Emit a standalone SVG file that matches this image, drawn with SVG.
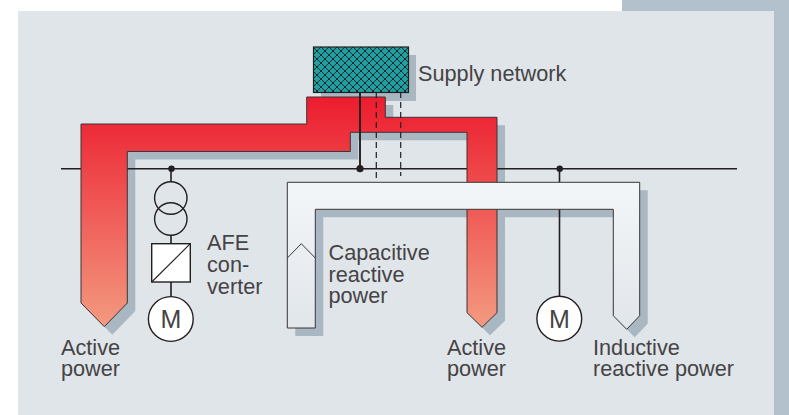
<svg xmlns="http://www.w3.org/2000/svg" width="789" height="415" viewBox="0 0 789 415">
<style>
.line{fill:none;stroke:#231f20;stroke-width:1.6}
.dash{fill:none;stroke:#231f20;stroke-width:1.2;stroke-dasharray:6 4}
.shadow{fill:#a8b7c1}
.outline{stroke:#3a3536;stroke-width:1}
.sym{fill:#fff;stroke:#231f20;stroke-width:1.4}
.dot{fill:#231f20}
text{font-family:"Liberation Sans",Arial,sans-serif;font-size:21.700px;fill:#454345}
</style>
<defs>
<linearGradient id="red" gradientUnits="userSpaceOnUse" x1="0" y1="97" x2="0" y2="327"><stop offset="0" stop-color="#ec1c2e"/><stop offset="1" stop-color="#f39a80"/></linearGradient>
<linearGradient id="white" gradientUnits="userSpaceOnUse" x1="0" y1="182" x2="0" y2="330"><stop offset="0" stop-color="#f3f6f9"/><stop offset="1" stop-color="#e1e6ea"/></linearGradient>
<pattern id="hatch" patternUnits="userSpaceOnUse" x="313" y="47" width="8" height="8">
<rect width="8" height="8" fill="#20a0a2"/>
<path d="M0 0L8 8M8 0L0 8" stroke="#1f2a2c" stroke-width="1"/>
</pattern>
<path id="redShape" d="M81 124H306.700V97H385.300V117.300H497V312.700L482 327.300L467 312.700V132.300H350.300V151.500H127.300V303L104.300 326.700L81 303Z"/>
</defs>
<g id="background">
<rect x="622" y="0" width="167" height="415" fill="#b2c1cb"/>
<rect x="18" y="11" width="756" height="404" fill="#e0e5e9"/>
</g>
<g id="shadows">
<rect class="shadow" x="321" y="55" width="95" height="46"/>
<use href="#redShape" class="shadow" x="8" y="8"/>
<path class="shadow" d="M295.300 190.300H647.700V323.700L634.700 337.300L621.300 323.700V217.300H323.300V336H295.300Z"/>
</g>
<g id="connectors">
<path class="line" d="M61 168.700H737"/>
<path class="line" d="M171 169V182M171 235V244M171 282V297"/>
<path class="line" d="M559.500 169V182.300M559.500 209V297"/>
</g>
<g id="active-power-flow">
<use href="#redShape" fill="url(#red)" class="outline"/>
</g>
<g id="reactive-power-flow">
<path d="M287.300 182.300H639.700V315.700L626.700 329.300L613.300 315.700V209.300H315.300V328H287.300Z" fill="url(#white)"/>
<path class="outline" fill="none" d="M287.300 328V182.300H639.700V315.700L626.700 329.300L613.300 315.700V209.300H315.300V328H287.300M287.300 258L301.300 243.700L315.300 258"/>
</g>
<g id="supply-connectors">
<path class="line" d="M360 92V169" style="stroke-width:1.900"/>
<path class="dash" d="M376.300 92V182"/>
<path class="dash" d="M400.700 92V176"/>
<circle class="dot" cx="360" cy="168.700" r="3.600"/>
<circle class="dot" cx="171.500" cy="168.700" r="3.200"/>
<circle class="dot" cx="559.700" cy="168.700" r="3.200"/>
</g>
<g id="supply-network">
<rect x="313.500" y="47" width="95" height="45.500" fill="url(#hatch)" stroke="#231f20" stroke-width="1.200"/>
<text x="418" y="81">Supply network</text>
</g>
<g id="transformer">
<circle cx="170.800" cy="198" r="16.200" fill="none" stroke="#231f20" stroke-width="1.400"/>
<circle cx="170.800" cy="219" r="16.200" fill="none" stroke="#231f20" stroke-width="1.400"/>
</g>
<g id="afe-converter">
<rect class="sym" x="151.700" y="243.700" width="38.600" height="38.300"/>
<path d="M151.700 282L190.300 243.700" fill="none" stroke="#231f20" stroke-width="1.100"/>
<text x="207" y="250">AFE<tspan x="207" dy="22">con-</tspan><tspan x="207" dy="22">verter</tspan></text>
</g>
<g id="motor-1">
<circle class="sym" cx="170.800" cy="319" r="22.400"/>
<text x="170.800" y="328" text-anchor="middle" style="font-size:25px">M</text>
</g>
<g id="motor-2">
<circle class="sym" cx="559.300" cy="318.700" r="22.400"/>
<text x="559.300" y="328" text-anchor="middle" style="font-size:25px">M</text>
</g>
<g id="labels">
<text x="61" y="355">Active<tspan x="61" dy="21">power</tspan></text>
<text x="328.500" y="259.500">Capacitive<tspan x="328.500" dy="22">reactive</tspan><tspan x="328.500" dy="21.500">power</tspan></text>
<text x="447" y="355">Active<tspan x="447" dy="21">power</tspan></text>
<text x="593" y="354.500">Inductive<tspan x="593" dy="21.500">reactive power</tspan></text>
</g>
</svg>
